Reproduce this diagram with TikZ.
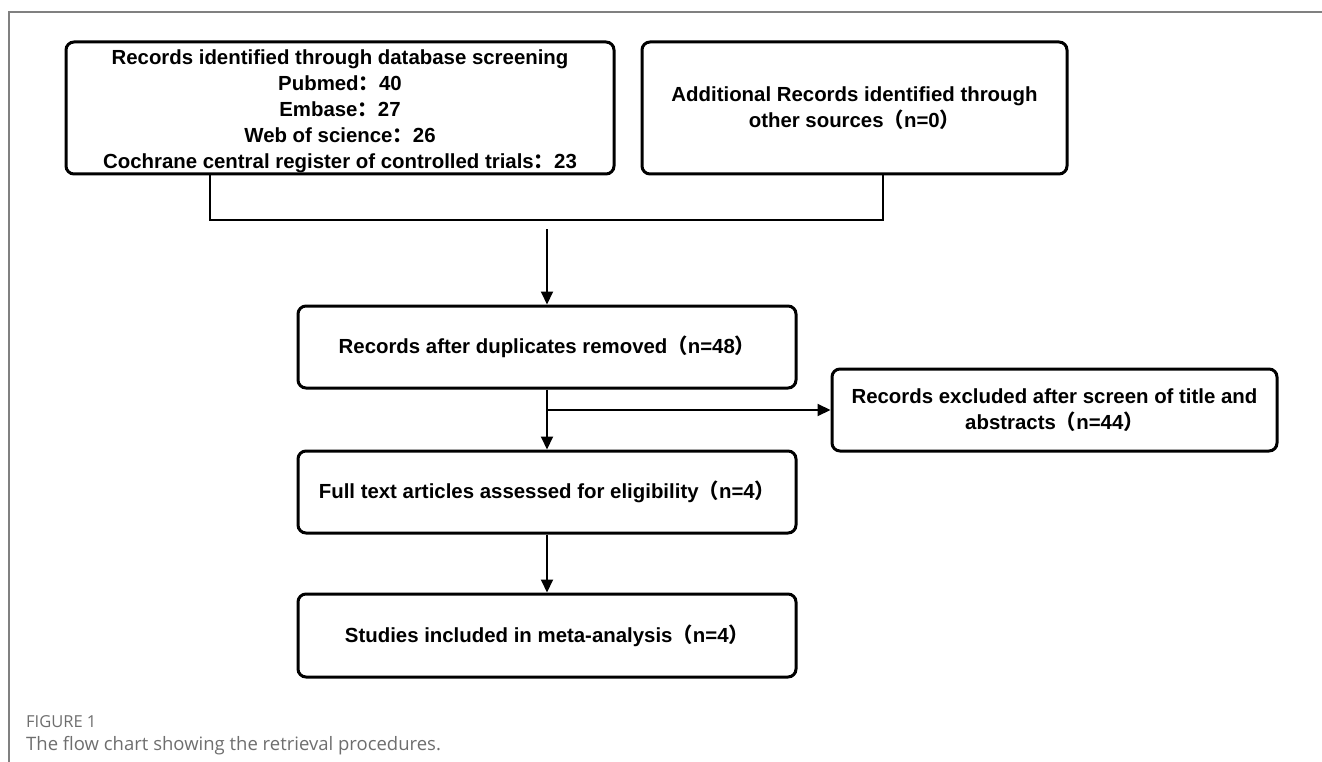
\documentclass[tikz,border=0pt]{standalone}
\usepackage{fontspec}
\setmainfont{Liberation Sans}
\newfontfamily\cjk{Noto Sans CJK SC}
\newfontfamily\capfont{Open Sans}
\usetikzlibrary{arrows.meta,calc}
\definecolor{framegray}{HTML}{808080}
\definecolor{capgray}{HTML}{6E6E6E}
\newcommand{\fc}{{\cjk ：}}
\newcommand{\lp}{{\cjk （}}
\newcommand{\rp}{{\cjk ）}}
\tikzset{
  flowbox/.style={draw=black, line width=3pt, rounded corners=8pt, fill=white,
    align=center, inner sep=0pt, font=\bfseries\fontsize{20.4}{26}\selectfont},
  link/.style={draw=black, line width=2pt},
  arr/.style={link, -{Triangle[length=13pt,width=12pt]}},
  caplab/.style={anchor=base west, inner sep=0pt, text=capgray},
}
\begin{document}
\begin{tikzpicture}[x=1pt, y=-1pt]
\useasboundingbox (0,0) rectangle (1322,762);
% frame
\draw[framegray, line width=1.5pt] (9,762) -- (9,12) -- (1322,12);
% boxes
\node[flowbox, minimum width=548pt, minimum height=132pt] (b1) at (340,108)
  {\rule{0pt}{21pt}Records identified through database screening\\
   Pubmed\fc40\\
   Embase\fc27\\
   Web of science\fc26\\
   Cochrane central register of controlled trials\fc23};
\node[flowbox, minimum width=425pt, minimum height=132pt] (b2) at (854.5,108)
  {Additional Records identified through\\ other sources\lp n=0\rp};
\node[flowbox, minimum width=498pt, minimum height=82pt] (b3) at (547,347)
  {Records after duplicates removed\lp n=48\rp};
\node[flowbox, minimum width=445pt, minimum height=82pt] (ex) at (1054.5,410)
  {Records excluded after screen of title and\\ abstracts\lp n=44\rp};
\node[flowbox, minimum width=498pt, minimum height=82pt] (b4) at (547,492)
  {Full text articles assessed for eligibility\lp n=4\rp};
\node[flowbox, minimum width=498pt, minimum height=83pt] (b5) at (547,635.5)
  {Studies included in meta-analysis\lp n=4\rp};
% connectors
\coordinate (bl) at (210,220);
\coordinate (br) at (883,220);
\coordinate (as) at (547,229);
\draw[link] (b1.south -| bl) -- (bl) -- (br) -- (b2.south -| br);
\draw[arr] (as) -- (b3.north);
\draw[arr] (b3.south) -- (b4.north);
\draw[arr] (b3.south |- ex.west) -- (ex.west);
\draw[arr] (b4.south) -- (b5.north);
% caption
\node[caplab, font=\capfont\fontsize{16.5}{18}\selectfont] (fig) at (26,727) {FIGURE 1};
\node[caplab, font=\capfont\fontsize{18.5}{21}\selectfont] (cap) at (26,750) {The flow chart showing the retrieval procedures.};
\end{tikzpicture}
\end{document}
